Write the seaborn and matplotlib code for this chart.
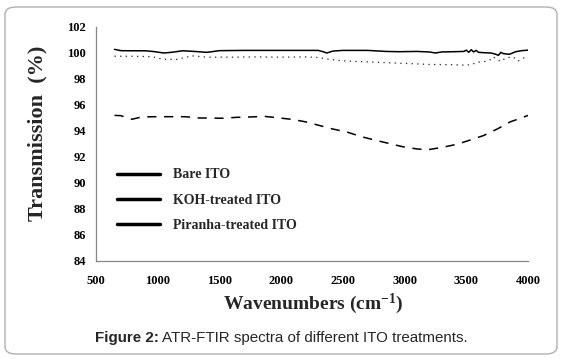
import matplotlib
matplotlib.use("Agg")
import matplotlib.pyplot as plt
import seaborn as sns
import pandas as pd
from matplotlib.lines import Line2D
from matplotlib.patches import FancyBboxPatch

# ---- data ----
series_names = ["Bare ITO", "KOH-treated ITO", "Piranha-treated ITO"]

wn_bare = [650, 700, 800, 900, 960, 1050, 1120, 1200, 1300, 1400, 1500, 1700, 1900, 2100,
           2300, 2340, 2370, 2420, 2500, 2700, 2850, 2950, 3100, 3200, 3250, 3300, 3400,
           3480, 3500, 3520, 3540, 3560, 3580, 3600, 3650, 3700, 3740, 3760, 3780, 3800,
           3850, 3900, 3950, 4000]
t_bare = [100.28, 100.18, 100.17, 100.17, 100.12, 100.0, 100.06, 100.17, 100.12, 100.05,
          100.18, 100.2, 100.2, 100.2, 100.2, 100.1, 100.0, 100.15, 100.2, 100.2, 100.12,
          100.1, 100.12, 100.08, 100.0, 100.08, 100.1, 100.12, 100.22, 100.05, 100.25,
          100.08, 100.2, 100.05, 100.02, 100.0, 99.9, 99.82, 100.05, 99.95, 99.9, 100.1,
          100.18, 100.22]

wn_koh = [650, 800, 950, 1040, 1150, 1280, 1400, 1600, 1800, 2000, 2200, 2300, 2400, 2500,
          2600, 2800, 3000, 3200, 3400, 3500, 3550, 3600, 3650, 3700, 3720, 3740, 3760,
          3780, 3800, 3840, 3880, 3920, 3960, 4000]
t_koh = [99.75, 99.75, 99.72, 99.52, 99.5, 99.78, 99.68, 99.68, 99.7, 99.68, 99.7, 99.65,
         99.5, 99.4, 99.35, 99.28, 99.2, 99.12, 99.1, 99.05, 99.15, 99.3, 99.35, 99.5, 99.7,
         99.55, 99.45, 99.35, 99.5, 99.65, 99.7, 99.38, 99.6, 99.72]

wn_pir = [650, 700, 790, 870, 980, 1100, 1220, 1340, 1420, 1520, 1640, 1750, 1870, 1990,
          2100, 2200, 2300, 2420, 2540, 2655, 2760, 2870, 2980, 3100, 3190, 3310, 3425,
          3530, 3640, 3750, 3855, 3930, 4000]
t_pir = [95.2, 95.18, 94.9, 95.08, 95.1, 95.1, 95.1, 95.0, 95.0, 94.98, 95.05, 95.08, 95.12,
         95.0, 94.88, 94.7, 94.45, 94.15, 93.9, 93.55, 93.3, 93.05, 92.8, 92.62, 92.56,
         92.75, 92.98, 93.3, 93.65, 94.15, 94.7, 94.95, 95.2]

x_ticks = [500, 1000, 1500, 2000, 2500, 3000, 3500, 4000]
y_ticks = [84, 86, 88, 90, 92, 94, 96, 98, 100, 102]

# ---- figure ----
sns.set_theme(style="white")
plt.rcParams["font.family"] = ["Liberation Serif", "DejaVu Serif"]
plt.rcParams["mathtext.fontset"] = "custom"
plt.rcParams["mathtext.rm"] = "Liberation Serif:bold"
plt.rcParams["mathtext.bf"] = "Liberation Serif:bold"
plt.rcParams["mathtext.it"] = "Liberation Serif:bold"

W, H = 563, 359
fig = plt.figure(figsize=(W / 100, H / 100), dpi=100)
ax = fig.add_axes([96 / W, 1 - 261 / H, (528 - 96) / W, (261 - 27) / H])

df_bare = pd.DataFrame({"wn": wn_bare, "t": t_bare})
df_koh = pd.DataFrame({"wn": wn_koh, "t": t_koh})
df_pir = pd.DataFrame({"wn": wn_pir, "t": t_pir})

sns.lineplot(data=df_bare, x="wn", y="t", ax=ax, color="black", lw=1.1, sort=False,
             estimator=None, legend=False)
sns.lineplot(data=df_koh, x="wn", y="t", ax=ax, color="#222222", lw=0.9, sort=False,
             estimator=None, legend=False, linestyle=(0, (1, 3.5)))
sns.lineplot(data=df_pir, x="wn", y="t", ax=ax, color="black", lw=1.1, sort=False,
             estimator=None, legend=False, linestyle=(0, (6, 5)))

ax.set_xlim(500, 4000)
ax.set_ylim(84, 102)
ax.set_xticks(x_ticks)
ax.set_yticks(y_ticks)
ax.set_xticklabels([str(v) for v in x_ticks], fontsize=9, fontweight="bold")
ax.set_yticklabels([str(v) for v in y_ticks], fontsize=9, fontweight="bold")
ax.tick_params(axis="both", direction="out", length=4, width=0.9, color="#868686",
               pad=3, labelcolor="black")
ax.tick_params(axis="x", pad=6)
sns.despine(ax=ax)
for s in ["left", "bottom"]:
    ax.spines[s].set_color("#868686")
    ax.spines[s].set_linewidth(0.9)

ax.set_xlabel("")
ax.set_ylabel("")
fig.text(37 / W, 1 - 133 / H, "Transmission  (%)", rotation=90, fontsize=16,
         fontweight="bold", ha="center", va="center")
fig.text(313 / W, 1 - 304 / H, r"Wavenumbers (cm$^{\mathbf{-1}}$)", fontsize=14,
         fontweight="bold", ha="center", va="center")

# caption
cap_y = 1 - 338 / H
t1 = fig.text(95 / W, cap_y, "Figure 2:", fontsize=10.9, fontweight="bold",
              family="Liberation Sans", ha="left", va="center")
fig.canvas.draw()
bb = t1.get_window_extent()
fig.text((bb.x1 + 3) / W, cap_y, "ATR-FTIR spectra of different ITO treatments.",
         fontsize=10.9, family="Liberation Sans", ha="left", va="center")

# legend
handles = [Line2D([0], [0], color="black", lw=2.5) for _ in series_names]
leg = ax.legend(handles, series_names, loc="upper left",
                bbox_to_anchor=(117 / W, 1 - 168.5 / H), bbox_transform=fig.transFigure,
                frameon=False, borderpad=0, borderaxespad=0, handlelength=3.1,
                handletextpad=0.9, labelspacing=0.88,
                prop={"family": "Liberation Serif", "weight": "bold", "size": 10})

# outer frame
frame = FancyBboxPatch((5 / W, 5 / H), (W - 11) / W, (H - 12) / H,
                       boxstyle="round,pad=0,rounding_size=0.02",
                       transform=fig.transFigure, facecolor="none",
                       edgecolor="#b0b0b0", lw=1.0, zorder=-1)
fig.patches.append(frame)

fig.savefig("out.png", dpi=100)
